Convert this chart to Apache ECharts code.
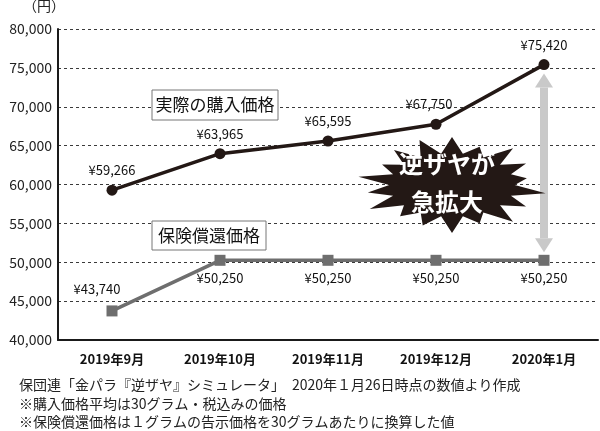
<!DOCTYPE html>
<html><head><meta charset="utf-8">
<script src="https://cdn.jsdelivr.net/npm/echarts@6/dist/echarts.min.js"></script>
<style>html,body{margin:0;padding:0;background:#fff}#c{width:600px;height:431px}</style>
</head><body><div id="c"></div>
<script>
const categories = ['2019年9月','2019年10月','2019年11月','2019年12月','2020年1月'];
const purchasePrice = [59266, 63965, 65595, 67750, 75420];
const reimbursePrice = [43740, 50250, 50250, 50250, 50250];
const yTicks = {min: 40000, max: 80000, interval: 5000};
const purchaseName = '実際の購入価格';
const reimburseName = '保険償還価格';
const burstLines = ['逆ザヤが','急拡大'];
const notes = [
  '保団連「金パラ『逆ザヤ』シミュレータ」　2020年１月26日時点の数値より作成',
  '※購入価格平均は30グラム・税込みの価格',
  '※保険償還価格は１グラムの告示価格を30グラムあたりに換算した値'
];
const FONT = '"Noto Sans CJK JP", "Noto Sans", sans-serif';
const fmt = v => v.toLocaleString('en-US');

const chart = echarts.init(document.getElementById('c'));

function starPoints(cx, cy, rx, ry, n) {
  const pts = [];
  const irr = [1.0,0.85,1.0,0.9,0.8,1.0,0.9,1.0,0.85,1.0,0.9,0.85,1.0,0.9,1.0,0.85,0.95,1.0];
  for (let i = 0; i < n * 2; i++) {
    const a = Math.PI * i / n - Math.PI / 2;
    const k = i % 2 === 0 ? irr[(i / 2) % irr.length] : 0.66;
    pts.push([cx + Math.cos(a) * rx * k, cy + Math.sin(a) * ry * k]);
  }
  return pts;
}

chart.setOption({
  backgroundColor: '#fff',
  animation: false,
  textStyle: {fontFamily: FONT},
  grid: {left: 58, right: 2, top: 29, bottom: 91, containLabel: false},
  xAxis: {
    type: 'category', data: categories, boundaryGap: true,
    axisLine: {lineStyle: {color: '#1a1a1a', width: 2}},
    axisTick: {inside: true, length: 6, lineStyle: {color: '#1a1a1a', width: 1.5}},
    axisLabel: {color: '#111', fontSize: 13, fontWeight: 'bold', margin: 13, fontFamily: FONT}
  },
  yAxis: {
    type: 'value', min: yTicks.min, max: yTicks.max, interval: yTicks.interval,
    axisLine: {show: true, lineStyle: {color: '#1a1a1a', width: 2}},
    axisTick: {show: false},
    axisLabel: {color: '#222', fontSize: 14, margin: 6, formatter: v => fmt(v), fontFamily: FONT},
    splitLine: {lineStyle: {color: '#3a3a3a', width: 1, type: [3, 3]}}
  },
  series: [
    {
      name: purchaseName, type: 'line', data: purchasePrice,
      symbol: 'circle', symbolSize: 11,
      lineStyle: {color: '#231815', width: 3.5},
      itemStyle: {color: '#231815'},
      label: {show: true, position: 'top', distance: 8, color: '#111', fontSize: 13,
        formatter: p => '¥' + fmt(p.value), fontFamily: FONT},
      labelLayout: p => p.dataIndex === 3 ? {dx: -7} : {},
      z: 3
    },
    {
      name: reimburseName, type: 'line', data: reimbursePrice,
      symbol: 'rect', symbolSize: 11,
      lineStyle: {color: '#6e6e6e', width: 3.5},
      itemStyle: {color: '#6e6e6e'},
      label: {show: true, position: 'bottom', distance: 6, color: '#111', fontSize: 13,
        formatter: p => '¥' + fmt(p.value), fontFamily: FONT},
      labelLayout: p => p.dataIndex === 0 ? {dy: -40, dx: -15} : {},
      z: 3
    }
  ]
});

const pTop = chart.convertToPixel({seriesIndex: 0}, [4, purchasePrice[4]]);
const pBot = chart.convertToPixel({seriesIndex: 1}, [4, reimbursePrice[4]]);
const ax = pTop[0];
const y1 = pTop[1] + 9, y2 = pBot[1] - 8;
const head = 14;

chart.setOption({
  graphic: [
    {type: 'text', left: 23, top: -1, style: {text: '（円）', fontSize: 14, fill: '#222', fontFamily: FONT}},
    {type: 'rect', shape: {x: ax - 4, y: y1 + head, width: 8, height: (y2 - head) - (y1 + head)}, style: {fill: '#c9c9c9'}, z: 2},
    {type: 'polygon', shape: {points: [[ax, y1], [ax - 9, y1 + head], [ax + 9, y1 + head]]}, style: {fill: '#c9c9c9'}, z: 2},
    {type: 'polygon', shape: {points: [[ax, y2], [ax - 9, y2 - head], [ax + 9, y2 - head]]}, style: {fill: '#c9c9c9'}, z: 2},
    {type: 'polygon', shape: {points: starPoints(452, 185, 95, 48, 18)}, style: {fill: '#231815'}, z: 4},
    {type: 'text', x: 447, y: 164, style: {text: burstLines[0], fill: '#fff', fontSize: 24, fontWeight: 'bold', align: 'center', verticalAlign: 'middle', fontFamily: FONT}, z: 5},
    {type: 'text', x: 447, y: 202, style: {text: burstLines[1], fill: '#fff', fontSize: 24, fontWeight: 'bold', align: 'center', verticalAlign: 'middle', fontFamily: FONT}, z: 5},
    {type: 'rect', shape: {x: 152, y: 90, width: 126, height: 30}, style: {fill: '#fff', stroke: '#777', lineWidth: 1}, z: 4},
    {type: 'text', x: 215, y: 105, style: {text: purchaseName, fill: '#111', fontSize: 17, align: 'center', verticalAlign: 'middle', fontFamily: FONT}, z: 5},
    {type: 'rect', shape: {x: 152, y: 221, width: 114, height: 29}, style: {fill: '#fff', stroke: '#777', lineWidth: 1}, z: 4},
    {type: 'text', x: 209, y: 235.5, style: {text: reimburseName, fill: '#111', fontSize: 17, align: 'center', verticalAlign: 'middle', fontFamily: FONT}, z: 5},
    {type: 'text', x: 19, y: 385, style: {text: notes[0], fill: '#222', fontSize: 14, verticalAlign: 'middle', fontFamily: FONT}},
    {type: 'text', x: 19, y: 404, style: {text: notes[1], fill: '#222', fontSize: 14, verticalAlign: 'middle', fontFamily: FONT}},
    {type: 'text', x: 19, y: 422, style: {text: notes[2], fill: '#222', fontSize: 14, verticalAlign: 'middle', fontFamily: FONT}}
  ]
});
</script></body></html>
